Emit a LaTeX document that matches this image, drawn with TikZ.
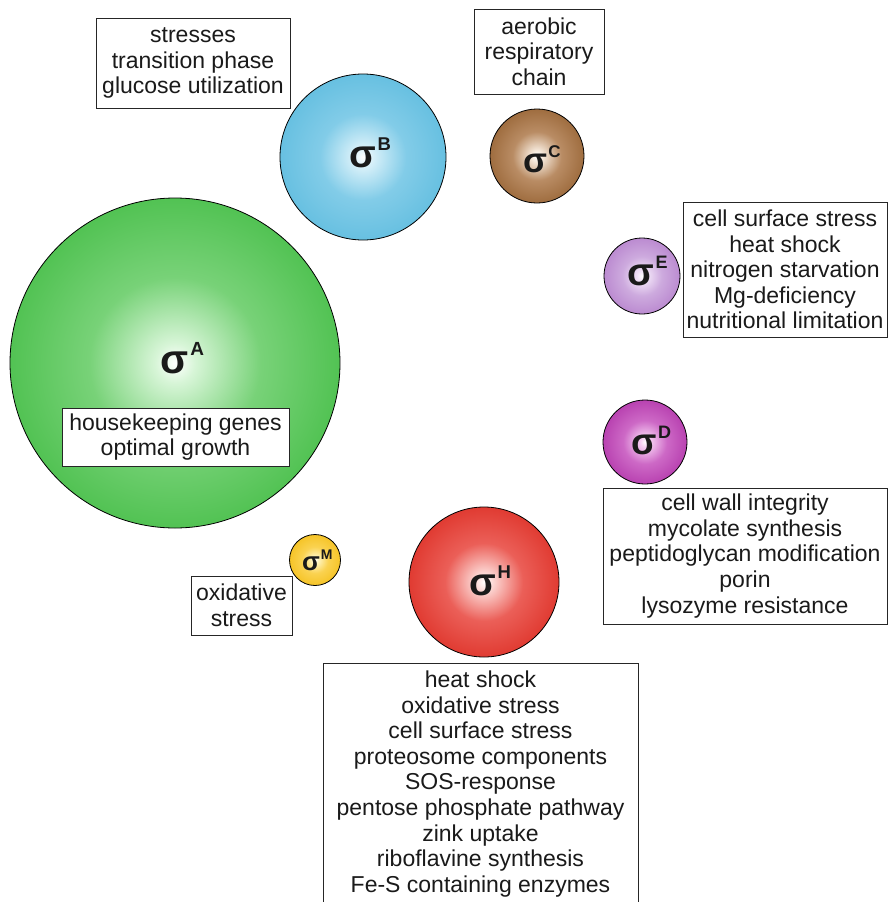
\documentclass[tikz,border=0pt]{standalone}
\usepackage{fontspec}
\setmainfont{Liberation Sans}

% edge, middle and centre tints of the sigma-factor discs
\definecolor{aDark}{RGB}{66,188,68}   \definecolor{aMid}{RGB}{120,210,120} \definecolor{aLight}{RGB}{215,245,215}
\definecolor{bDark}{RGB}{92,187,222}  \definecolor{bMid}{RGB}{130,204,232} \definecolor{bLight}{RGB}{215,240,249}
\definecolor{cDark}{RGB}{148,96,48}   \definecolor{cMid}{RGB}{185,140,100} \definecolor{cLight}{RGB}{245,232,218}
\definecolor{dDark}{RGB}{176,50,168}  \definecolor{dMid}{RGB}{205,105,198} \definecolor{dLight}{RGB}{245,205,242}
\definecolor{eDark}{RGB}{180,126,203} \definecolor{eMid}{RGB}{205,170,222} \definecolor{eLight}{RGB}{242,228,248}
\definecolor{hDark}{RGB}{220,44,34}   \definecolor{hMid}{RGB}{235,95,88}   \definecolor{hLight}{RGB}{252,215,212}
\definecolor{mDark}{RGB}{244,190,22}  \definecolor{mMid}{RGB}{250,210,80}  \definecolor{mLight}{RGB}{255,244,190}
\definecolor{inkText}{RGB}{26,26,26}

% white glow in the middle, full colour well before the rim
\newcommand{\makeglow}[1]{%
  \pgfdeclareradialshading{glow#1}{\pgfpoint{0bp}{0bp}}{%
    color(0bp)=(white); color(3bp)=(#1Light); color(13bp)=(#1Mid);
    color(30bp)=(#1Dark); color(50bp)=(#1Dark)}}
\makeglow{a}\makeglow{b}\makeglow{c}\makeglow{d}\makeglow{e}\makeglow{h}\makeglow{m}

\begin{document}
\begin{tikzpicture}[x=1pt,y=-1pt,
  sigdisc/.style={circle, draw=black, line width=0.8pt, inner sep=0pt, minimum size=#1},
  infobox/.style={draw=black!85, line width=0.9pt, fill=white, align=center,
                  inner sep=2pt, text=inkText, font=\fontsize{23}{25.6}\selectfont},
  sigchar/.style={inner sep=0pt, text=inkText, font=\fontsize{#1}{#1}\selectfont\bfseries},
  sigsup/.style={anchor=base west, inner sep=0pt, text=inkText, font=\fontsize{#1}{#1}\selectfont\bfseries}
]
\useasboundingbox (0,0) rectangle (889,902);

% sigma-factor discs
\node[sigdisc=330pt, shading=glowa] (cA) at (175,363) {};
\node[sigdisc=166pt, shading=glowb] (cB) at (363,157) {};
\node[sigdisc=94pt,  shading=glowc] (cC) at (537,156) {};
\node[sigdisc=76pt,  shading=glowe] (cE) at (642,276) {};
\node[sigdisc=84pt,  shading=glowd] (cD) at (645,442) {};
\node[sigdisc=51pt,  shading=glowm] (cM) at (315,560) {};
\node[sigdisc=150pt, shading=glowh] (cH) at (484,582) {};

% sigma symbols with their superscript letters
\node[sigchar=41] (sA) at (cA) {σ};
\node[sigsup=19, xshift=1pt, yshift=18pt] (sAs) at (sA.base east) {A};
\node[sigchar=39] (sB) at (cB) {σ};
\node[sigsup=18.5, xshift=1pt, yshift=17pt] (sBs) at (sB.base east) {B};
\node[sigchar=35] (sC) at (535,163) {σ};
\node[sigsup=17, xshift=1pt, yshift=15pt] (sCs) at (sC.base east) {C};
\node[sigchar=39] (sE) at (641,275) {σ};
\node[sigsup=18, xshift=1pt, yshift=17pt] (sEs) at (sE.base east) {E};
\node[sigchar=37] (sD) at (644,445) {σ};
\node[sigsup=18, xshift=1pt, yshift=16pt] (sDs) at (sD.base east) {D};
\node[sigchar=39] (sH) at (483,585) {σ};
\node[sigsup=18.5, xshift=1pt, yshift=17pt] (sHs) at (sH.base east) {H};
\node[sigchar=26] (sM) at (311,564) {σ};
\node[sigsup=14, xshift=0.5pt, yshift=11pt] (sMs) at (sM.base east) {M};

% function boxes
\node[infobox, minimum width=194pt, minimum height=90pt] (bB) at (193,63)
  {stresses\\transition phase\\glucose utilization};
\node[infobox, minimum width=130pt, minimum height=85pt] (bC) at (539,51.5)
  {aerobic\\respiratory\\chain};
\node[infobox, minimum width=204pt, minimum height=135pt] (bE) at (785,269.5)
  {cell surface stress\\heat shock\\nitrogen starvation\\Mg-deficiency\\nutritional limitation};
\node[infobox, minimum width=227pt, minimum height=58pt] (bA) at (175.5,437)
  {housekeeping genes\\optimal growth};
\node[infobox, minimum width=284pt, minimum height=136pt] (bD) at (745,556)
  {cell wall integrity\\mycolate synthesis\\peptidoglycan modification\\porin\\lysozyme resistance};
\node[infobox, minimum width=101pt, minimum height=59pt] (bM) at (241.5,605.5)
  {oxidative\\stress};
\node[infobox, minimum width=315pt, minimum height=242pt] (bH) at (480.5,784)
  {heat shock\\oxidative stress\\cell surface stress\\proteosome components\\SOS-response\\pentose phosphate pathway\\zink uptake\\riboflavine synthesis\\Fe-S containing enzymes};
\end{tikzpicture}
\end{document}
